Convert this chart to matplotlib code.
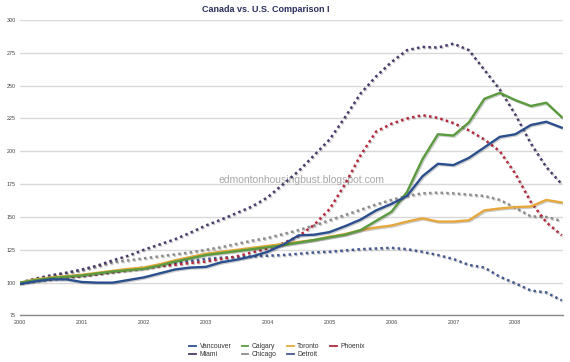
import numpy as np
import matplotlib
matplotlib.use('Agg')
import matplotlib.pyplot as plt
import matplotlib.patheffects as pe
from matplotlib.lines import Line2D

# quarterly index, Jan 2000 = 100
years = [2000 + i / 4 for i in range(36)]

vancouver = [99, 101, 102.5, 102.5, 100.5, 100, 100, 102, 104, 107, 110, 111.5,
             112, 115.5, 117.5, 120, 123.5, 129, 136, 136.5, 138.5, 143, 148, 155,
             160, 166, 181, 190.5, 189.5, 195, 203, 211, 213, 220, 222.5, 218]
calgary = [100, 102, 103.5, 104.5, 105.5, 107, 108.5, 109.5, 110.5, 113, 116, 118.5,
           121, 122.5, 124, 125.5, 127, 128.5, 130.5, 132.5, 134.5, 136.5, 140, 147,
           154, 169, 194, 213, 212, 222, 240, 244.5, 239, 234.5, 237, 226]
toronto = [100, 102.5, 104, 105, 106, 107.5, 109, 110.5, 111.5, 114, 117, 119.5,
           122, 123.5, 125, 126.5, 128, 129.5, 131, 132.5, 135, 137, 140, 142,
           143.5, 146.5, 149, 146.5, 146.5, 147.5, 155, 156.5, 157.5, 158, 163, 161]
phoenix = [100, 101.5, 102.5, 104, 105, 106.5, 108, 109.5, 111, 112.5, 113.5, 115,
           116, 118, 120, 123, 126, 130, 135.5, 144, 156, 175, 197, 215,
           221, 225, 227.5, 225.5, 221.5, 216, 209, 200, 183, 161.5, 146, 136]
miami = [100, 103, 105.5, 107.5, 110, 113, 117, 120.5, 125, 129, 133, 138,
         143.5, 148, 153, 158, 165, 175, 185, 197, 209, 226, 244, 257,
         268, 277, 279.5, 279, 282, 277, 262, 247, 228, 206, 188, 175]
chicago = [100, 103, 105.5, 107.5, 109.5, 112.5, 115.5, 117, 118.5, 120, 121.5, 123,
           125, 127, 129.5, 132, 134, 137, 140, 143.5, 147.5, 151.5, 155.5, 159.5,
           163, 166, 168, 168.5, 168, 167, 166, 163, 157, 150.5, 150, 147]
detroit = [100, 101.5, 103, 104.5, 105.5, 107, 108.5, 110, 111.5, 113, 115, 116.5,
           118, 119, 119.5, 120, 120.5, 121, 122, 123, 123.5, 124.5, 125.5, 126,
           126.5, 125.5, 123.5, 121, 118, 113.5, 111.5, 104.5, 99.5, 94, 92.5, 86.5]

year_ticks = [2000, 2001, 2002, 2003, 2004, 2005, 2006, 2007, 2008]
value_ticks = [75, 100, 125, 150, 175, 200, 225, 250, 275, 300]

series = [
    ('Vancouver', vancouver, '#2b4f8e', '-'),
    ('Calgary', calgary, '#5b9b3f', '-'),
    ('Toronto', toronto, '#e6a83c', '-'),
    ('Phoenix', phoenix, '#b42a3c', 'dot'),
    ('Miami', miami, '#4b3b6b', 'dot'),
    ('Chicago', chicago, '#8c8c8c', 'dot'),
    ('Detroit', detroit, '#44598f', 'dot'),
]

plt.rcParams['font.family'] = ['Liberation Sans', 'DejaVu Sans']

fig = plt.figure(figsize=(5.7, 3.62), dpi=100)
ax = fig.add_axes([0.0351, 0.1285, 0.9526, 0.8163])

shadow = [pe.SimpleLineShadow(offset=(0.8, -0.8), alpha=0.2), pe.Normal()]
# dotted US cities underneath, solid Canadian cities on top
for name, vals, color, style in series[::-1]:
    if style == 'dot':
        ax.plot(years, vals, color=color, lw=1.8, linestyle=(0, (1.0, 1.3)),
                dash_capstyle='butt', zorder=3, path_effects=shadow)
    else:
        ax.plot(years, vals, color=color, lw=1.7, zorder=4,
                solid_joinstyle='round', path_effects=shadow)

ax.set_xlim(2000, 2008.77)
ax.set_ylim(75, 300)
ax.set_xticks(year_ticks)
ax.set_xticklabels([str(y) for y in year_ticks])
ax.set_yticks(value_ticks)
ax.tick_params(axis='both', length=0, labelsize=3.9, labelcolor='#444444')
ax.tick_params(axis='y', pad=3)
ax.tick_params(axis='x', pad=3)
ax.grid(axis='y', color='#d9d9d9', lw=1.0, zorder=0)
ax.set_axisbelow(True)
for s in ['top', 'right', 'left']:
    ax.spines[s].set_visible(False)
ax.spines['bottom'].set_color('#8a8a8a')
ax.spines['bottom'].set_linewidth(1.0)

ax.text(0.519, 0.458, 'edmontonhousingbust.blogspot.com', transform=ax.transAxes,
        fontsize=7.5, color='#a8a8a8', ha='center', va='center', zorder=1)

fig.text(0.467, 0.975, 'Canada vs. U.S. Comparison I', ha='center', va='center',
         fontsize=6.5, fontweight='bold', color='#2a2f5e')

# legend order so rows read Vancouver, Calgary, Toronto, Phoenix / Miami, Chicago, Detroit
order = ['Vancouver', 'Miami', 'Calgary', 'Chicago', 'Toronto', 'Detroit', 'Phoenix']
lookup = {n: c for n, v, c, s in series}
handles = [Line2D([], [], color=lookup[n], lw=1.3) for n in order]
fig.legend(handles, order, loc='center', bbox_to_anchor=(0.486, 0.031), ncol=4,
           frameon=False, fontsize=4.9, handlelength=1.0, handletextpad=0.5,
           columnspacing=1.5, labelspacing=0.15, labelcolor='#333333')

plt.savefig('out.png', dpi=100)
